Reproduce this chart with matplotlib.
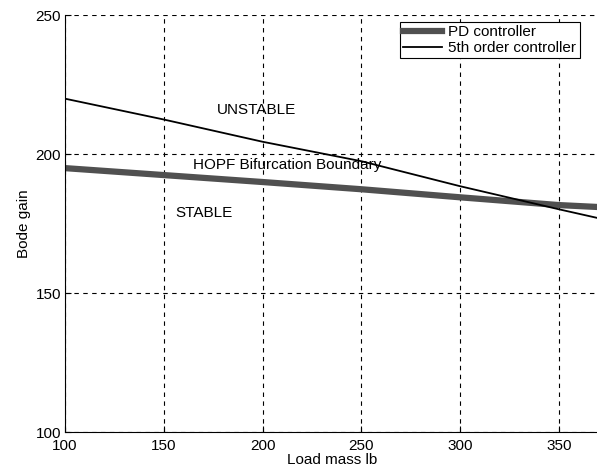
import matplotlib.pyplot as plt

plt.rcParams['font.family'] = ['Liberation Sans', 'DejaVu Sans']

load_mass = [100, 150, 200, 250, 300, 350, 370]
pd_gain = [195, 192.5, 190, 187.4, 184.5, 181.7, 181]
fifth_gain = [220, 212.5, 204.5, 197.5, 188.5, 180.2, 177]
x_ticks = [100, 150, 200, 250, 300, 350]
y_ticks = [100, 150, 200, 250]

fig = plt.figure(figsize=(5.97, 4.74), dpi=100)
ax = fig.add_axes([0.109, 0.0886, 0.893, 0.879])

ax.plot(load_mass, pd_gain, color='#505050', linewidth=4.5, label='PD controller')
ax.plot(load_mass, fifth_gain, color='black', linewidth=1.3, label='5th order controller')

ax.set_xlim(100, 370)
ax.set_ylim(100, 250)
ax.set_xticks(x_ticks)
ax.set_yticks(y_ticks)
ax.grid(True, color='black', linestyle=(0, (4, 4)), linewidth=0.8)
ax.spines['right'].set_visible(False)
ax.spines['top'].set_visible(False)
ax.tick_params(direction='in', length=4, labelsize=11, pad=2)
ax.tick_params(axis='x', pad=5)
ax.tick_params(axis='y', pad=3)

ax.text(177, 215.8, 'UNSTABLE', fontsize=11, va='center')
ax.text(165, 196, 'HOPF Bifurcation Boundary', fontsize=11, va='center')
ax.text(156, 178.8, 'STABLE', fontsize=11, va='center')

ax.set_xlabel('Load mass lb', fontsize=11, labelpad=0)
ax.set_ylabel('Bode gain', fontsize=11, labelpad=3)

leg = ax.legend(loc='upper right', bbox_to_anchor=(0.965, 0.984), fontsize=11,
                fancybox=False, framealpha=1, edgecolor='black',
                handlelength=2.6, handletextpad=0.4, borderpad=0.2,
                labelspacing=0.15, borderaxespad=0)
leg.get_frame().set_linewidth(0.8)

fig.savefig('out.png', dpi=100)
